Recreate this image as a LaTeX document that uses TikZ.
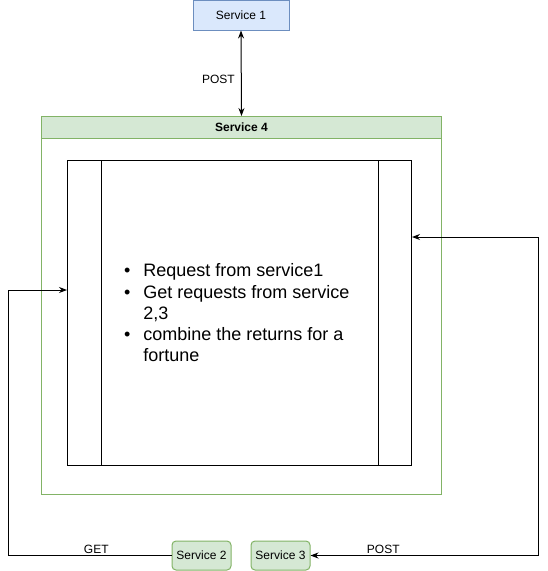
\documentclass[tikz,border=0pt]{standalone}
\usepackage{fontspec}
\setmainfont{Liberation Sans}
\usepackage{tikz}
\usetikzlibrary{positioning,arrows.meta}
\definecolor{blueFill}{HTML}{DAE8FC}
\definecolor{blueLine}{HTML}{6C8EBF}
\definecolor{greenFill}{HTML}{D5E8D4}
\definecolor{greenLine}{HTML}{82B366}

\begin{document}
\begin{tikzpicture}[x=1pt,y=-1pt,line width=1pt,
  small/.style={font=\fontsize{12}{14}\selectfont},
  service/.style={small,draw=greenLine,fill=greenFill,rounded corners=4pt,
    minimum width=59pt,minimum height=29pt,inner sep=0pt},
  flow/.style={-{Stealth[length=8pt,width=6pt]}},
  both/.style={{Stealth[length=8pt,width=6pt]}-{Stealth[length=8pt,width=6pt]}},
  lbl/.style={small,inner sep=0pt}]
  \useasboundingbox (0,0) rectangle (547,571);

  % Service 1
  \node[small,draw=blueLine,fill=blueFill,minimum width=96pt,minimum height=30pt] (s1) at (241,15) {Service 1};

  % Service 4 container
  \node[draw=greenLine,minimum width=400pt,minimum height=378pt,anchor=north west] (s4box) at (41,116) {};
  \node[small,font=\bfseries\fontsize{12}{14}\selectfont,draw=greenLine,fill=greenFill,minimum width=400pt,minimum height=22pt,anchor=north west] (s4) at (41,116) {Service 4};

  % Process box
  \node[draw,minimum width=344pt,minimum height=305pt,anchor=north west] (proc) at (67,160) {};
  \draw ([xshift=34pt]proc.north west) -- ([xshift=34pt]proc.south west);
  \draw ([xshift=-34pt]proc.north east) -- ([xshift=-34pt]proc.south east);
  \node[font=\fontsize{18}{21.2}\selectfont,inner sep=0pt,xshift=-2.7pt,yshift=-2pt] (todo) at (proc.center) {%
    \begin{tabular}{@{}l@{\hspace{12.8pt}}l@{}}
      \textbullet & Request from service1\\
      \textbullet & Get requests from service\\
                  & 2,3\\
      \textbullet & combine the returns for a\\
                  & fortune
    \end{tabular}};

  % Service 2 and Service 3
  \node[service] (s2) at (201.5,555.5) {Service 2};
  \node[service] (s3) at (280.5,555.5) {Service 3};

  % Connectors
  \draw[both] (s1.south) -- (s4.north) node[lbl,pos=0.57,left=6pt] {POST};
  \coordinate (getTurn) at (8,290);
  \draw[flow] (s2.west) -| node[lbl,pos=0.23,above=1.5pt] {GET} (getTurn) -- (proc.west |- getTurn);
  \coordinate (postTurn) at (538,237);
  \draw[both] (proc.east |- postTurn) -- (postTurn) |- node[lbl,pos=0.84,above=1.5pt] {POST} (s3.east);
\end{tikzpicture}
\end{document}
